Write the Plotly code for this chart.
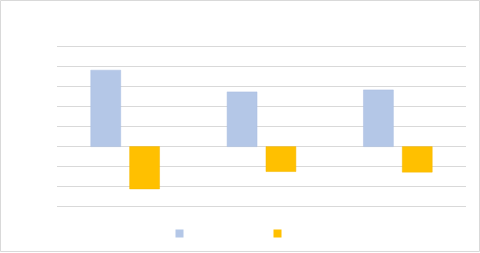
import plotly.graph_objects as go

categories = ["Category 1", "Category 2", "Category 3"]
series_a = [3.8, 2.72, 2.82]
series_b = [-2.1, -1.24, -1.27]
series_names = [" ", " "]

blue = "#b4c7e7"
orange = "#ffc000"

fig = go.Figure()
fig.add_trace(go.Bar(x=categories, y=series_a, marker=dict(color=blue, line=dict(color="#a9bde0", width=0.5)),
                     showlegend=False))
fig.add_trace(go.Bar(x=categories, y=series_b, marker=dict(color=orange, line=dict(color="#f5b800", width=0.5)),
                     showlegend=False))
# legend entries
fig.add_trace(go.Scatter(x=[None], y=[None], mode="markers", name=series_names[0],
                         marker=dict(symbol="square", size=8, color=blue)))
fig.add_trace(go.Scatter(x=[None], y=[None], mode="markers", name=series_names[1],
                         marker=dict(symbol="square", size=8, color=orange)))

W, H = 480, 253
e = 0.1
unit = 161 / 8.0
L, R = 57, 14
T = 46 - e * unit
B = 46 - e * unit
pw = W - L - R
ph = H - T - B

fig.update_layout(
    width=W, height=H,
    margin=dict(l=L, r=R, t=T, b=B, autoexpand=False),
    paper_bgcolor="white", plot_bgcolor="white",
    barmode="group", bargap=0.43, bargroupgap=0.23,
    xaxis=dict(showticklabels=False, showgrid=False, zeroline=False, showline=False, ticks=""),
    yaxis=dict(range=[-3 - e, 5 + e], dtick=1, tick0=0, showticklabels=False, showgrid=True, gridcolor="#d9d9d9",
               gridwidth=1, zeroline=True, zerolinecolor="#d9d9d9", zerolinewidth=1, ticks=""),
    legend=dict(orientation="h", x=(257.5 - L) / pw, xanchor="center", y=(H - B - 233.5) / ph,
                yanchor="middle", entrywidth=53, entrywidthmode="pixels", font=dict(size=10),
                itemclick=False),
    shapes=[dict(type="rect", xref="paper", yref="paper",
                 x0=(0.5 - L) / pw, x1=(W - 0.5 - L) / pw,
                 y0=(H - B - (H - 1.5)) / ph, y1=(H - B - 0.5) / ph,
                 line=dict(color="#d9d9d9", width=1), fillcolor="rgba(0,0,0,0)", layer="below")],
)

fig.write_html("out.html")
